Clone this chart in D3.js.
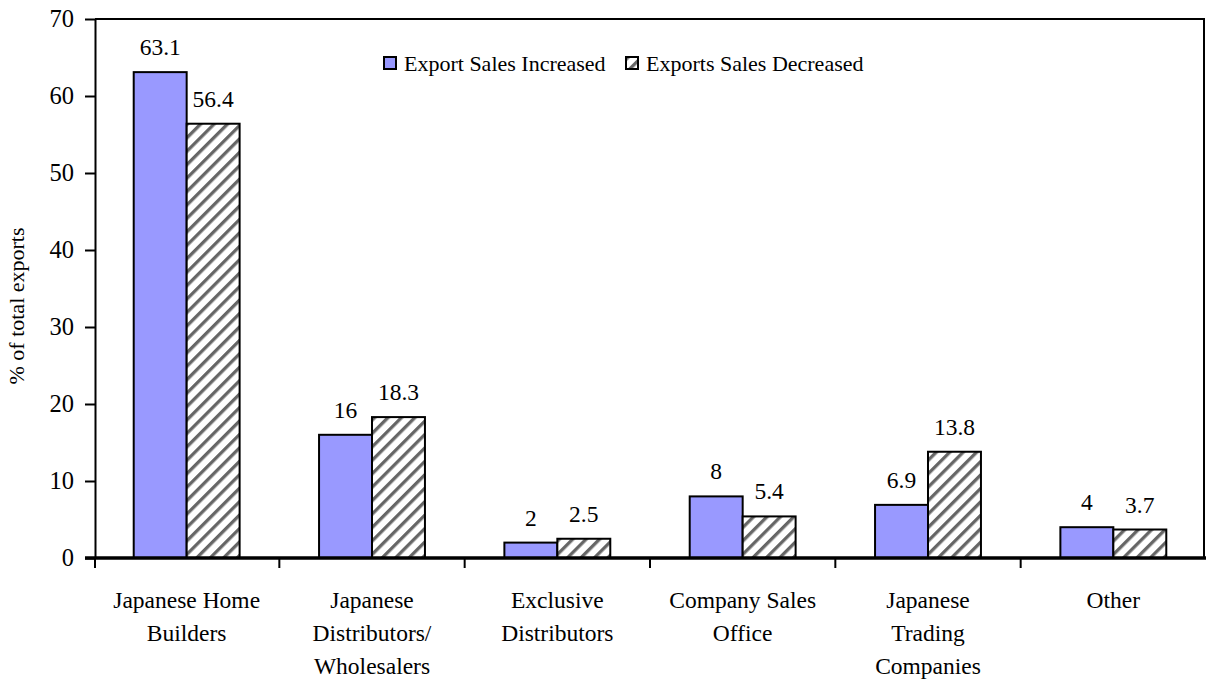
<!DOCTYPE html>
<html>
<head>
<meta charset="utf-8">
<script src="https://cdn.jsdelivr.net/npm/d3@7"></script>
</head>
<body style="margin:0">
<svg width="1206" height="682"></svg>
<script>
// chart data
const categories = ["Japanese Home Builders", "Japanese Distributors/ Wholesalers", "Exclusive Distributors", "Company Sales Office", "Japanese Trading Companies", "Other"]
const categoryLines = [["Japanese Home", "Builders"], ["Japanese", "Distributors/", "Wholesalers"], ["Exclusive", "Distributors"], ["Company Sales", "Office"], ["Japanese", "Trading", "Companies"], ["Other"]]
const seriesNames = ["Export Sales Increased", "Exports Sales Decreased"]
const increased = [63.1, 16, 2, 8, 6.9, 4]
const decreased = [56.4, 18.3, 2.5, 5.4, 13.8, 3.7]
const yTicks = [0, 10, 20, 30, 40, 50, 60, 70]

const FONT = "'Liberation Serif', monospace"

const svg = d3.select("svg")

// hatch pattern for the second series
const defs = svg.append("defs")
const pat = defs.append("pattern")
	.attr("id", "hatch")
	.attr("patternUnits", "userSpaceOnUse")
	.attr("width", 9.5)
	.attr("height", 9.5)
	.attr("patternTransform", "rotate(45)")
pat.append("rect").attr("width", 9.5).attr("height", 9.5).attr("fill", "#fff")
pat.append("rect").attr("x", 0).attr("width", 3.3).attr("height", 9.5).attr("fill", "#666")

const plotLeft = 95, plotRight = 1206, plotTop = 19, plotBottom = 558

const x0 = d3.scaleBand()
	.domain(categories)
	.range([plotLeft - 1, plotRight])

const x1 = d3.scaleBand()
	.domain(seriesNames)
	.range([0, x0.bandwidth()])
	.paddingOuter(0.75)

const y = d3.scaleLinear()
	.domain([0, 70])
	.range([plotBottom, plotTop])

const fills = ["#9999ff", "url(#hatch)"]

// frame
svg.append("path")
	.attr("d", `M${plotLeft},${plotTop}H${plotRight - 2}V${plotBottom}`)
	.attr("fill", "none")
	.attr("stroke", "#000")
	.attr("stroke-width", 2)

// y axis
const yAxis = svg.append("g")
	.attr("transform", `translate(${plotLeft},0)`)
	.call(d3.axisLeft(y).tickValues(yTicks).tickSize(10).tickPadding(11).tickSizeOuter(0))
yAxis.attr("font-family", null).attr("font-size", null)
yAxis.select(".domain").attr("stroke-width", 2)
yAxis.selectAll(".tick line").attr("stroke-width", 2)
yAxis.selectAll(".tick text")
	.attr("fill", "#000")
	.style("font-family", FONT)
	.style("font-size", "24.5px")

// bars
const rows = categories.map((c, i) => ({ cat: c, vals: [increased[i], decreased[i]] }))

const groups = svg.selectAll("g.cat")
	.data(rows)
	.enter()
	.append("g")
	.attr("class", "cat")
	.attr("transform", d => `translate(${x0(d.cat)},0)`)

groups.selectAll("rect")
	.data(d => d.vals.map((v, j) => ({ name: seriesNames[j], v: v, j: j })))
	.enter()
	.append("rect")
	.attr("x", d => x1(d.name))
	.attr("y", d => y(d.v))
	.attr("width", x1.bandwidth())
	.attr("height", d => y(0) - y(d.v))
	.attr("fill", d => fills[d.j])
	.attr("stroke", "#000")
	.attr("stroke-width", 2)

groups.selectAll("text.val")
	.data(d => d.vals.map((v, j) => ({ name: seriesNames[j], v: v })))
	.enter()
	.append("text")
	.attr("class", "val")
	.attr("x", d => x1(d.name) + x1.bandwidth() / 2)
	.attr("y", d => y(d.v) - 17)
	.attr("text-anchor", "middle")
	.style("font-family", FONT)
	.style("font-size", "23.5px")
	.text(d => d.v)

// zero line + category ticks
svg.append("line")
	.attr("x1", plotLeft - 10).attr("x2", plotRight)
	.attr("y1", plotBottom).attr("y2", plotBottom)
	.attr("stroke", "#000")
	.attr("stroke-width", 3.5)

svg.selectAll("line.xtick")
	.data(categories)
	.enter()
	.append("line")
	.attr("class", "xtick")
	.attr("x1", d => Math.max(x0(d), plotLeft)).attr("x2", d => Math.max(x0(d), plotLeft))
	.attr("y1", plotBottom).attr("y2", plotBottom + 10)
	.attr("stroke", "#000")
	.attr("stroke-width", 2)

// category labels
const catLabels = svg.selectAll("text.cat")
	.data(categories)
	.enter()
	.append("text")
	.attr("class", "cat")
	.attr("text-anchor", "middle")
	.attr("x", d => x0(d) + x0.bandwidth() / 2)
	.attr("y", 608)
	.style("font-family", FONT)
	.style("font-size", "23.5px")

catLabels.selectAll("tspan")
	.data((d, i) => categoryLines[i])
	.enter()
	.append("tspan")
	.attr("x", function () { return d3.select(this.parentNode).attr("x") })
	.attr("dy", (d, i) => i === 0 ? 0 : 33)
	.text(d => d)

// y title
svg.append("text")
	.attr("transform", "translate(24,306) rotate(-90)")
	.attr("text-anchor", "middle")
	.style("font-family", FONT)
	.style("font-size", "22px")
	.text("% of total exports")

// legend
const legendX = [384, 626]
const legend = svg.selectAll("g.legend")
	.data(seriesNames)
	.enter()
	.append("g")
	.attr("class", "legend")
	.attr("transform", (d, i) => `translate(${legendX[i]},57)`)

legend.append("rect")
	.attr("width", 12)
	.attr("height", 12)
	.attr("fill", (d, i) => fills[i])
	.attr("stroke", "#000")
	.attr("stroke-width", 2)

legend.append("text")
	.attr("x", 20)
	.attr("y", 14)
	.style("font-family", FONT)
	.style("font-size", "22px")
	.text(d => d)
</script>
</body>
</html>
